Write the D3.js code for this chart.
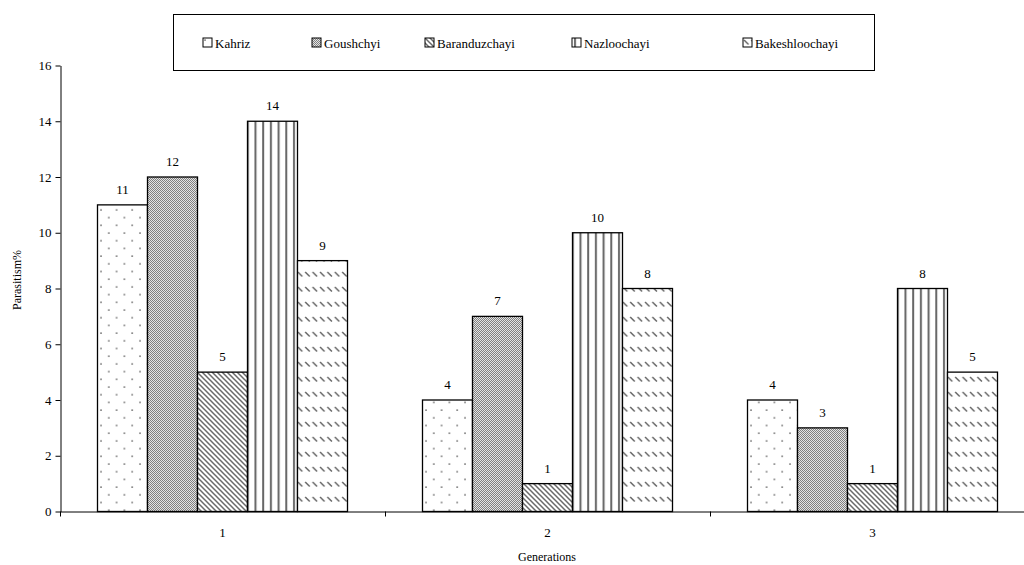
<!DOCTYPE html>
<html>
<head>
<meta charset="utf-8">
<script src="https://cdn.jsdelivr.net/npm/d3@7"></script>
<style>
  body { margin: 0; background: #fff; }
  svg text { font-family: "Liberation Serif", "Times New Roman", serif; fill: #000; }
</style>
</head>
<body>
<svg width="1024" height="565"></svg>
<script>
const generations = ['1', '2', '3'];
const sites = ['Kahriz', 'Goushchyi', 'Baranduzchayi', 'Nazloochayi', 'Bakeshloochayi'];
const kahriz = [11, 4, 4];
const goushchyi = [12, 7, 3];
const baranduzchayi = [5, 1, 1];
const nazloochayi = [14, 10, 8];
const bakeshloochayi = [9, 8, 5];
const yTicks = [0, 2, 4, 6, 8, 10, 12, 14, 16];

const seriesValues = [kahriz, goushchyi, baranduzchayi, nazloochayi, bakeshloochayi];
const rows = [];
generations.forEach((g, gi) => {
  sites.forEach((s, si) => rows.push({gen: g, site: s, value: seriesValues[si][gi]}));
});

const svg = d3.select('svg');
const defs = svg.append('defs');

// fill patterns, one per site
function pat(id, w, h) {
  return defs.append('pattern').attr('id', id)
    .attr('patternUnits', 'userSpaceOnUse').attr('width', w).attr('height', h);
}
let p = pat('p0', 15.6, 15.4);
p.append('rect').attr('width', 15.6).attr('height', 15.4).attr('fill', '#fff');
p.append('circle').attr('cx', 2).attr('cy', 2).attr('r', 0.9).attr('fill', '#666');
p.append('circle').attr('cx', 9.8).attr('cy', 9.7).attr('r', 0.9).attr('fill', '#666');

p = pat('p1', 2, 2);
p.append('rect').attr('width', 2).attr('height', 2).attr('fill', '#e4e4e4');
p.append('rect').attr('width', 1).attr('height', 1).attr('fill', '#808080');
p.append('rect').attr('x', 1).attr('y', 1).attr('width', 1).attr('height', 1).attr('fill', '#808080');

p = pat('p2', 5, 5);
p.append('rect').attr('width', 5).attr('height', 5).attr('fill', '#fff');
p.append('path').attr('d', 'M-1,-1L6,6M-1,4L1,6M4,-1L6,1').attr('stroke', '#6a6a6a').attr('stroke-width', 1.5);

p = pat('p3', 7.7, 10);
p.append('rect').attr('width', 7.7).attr('height', 10).attr('fill', '#fff');
p.append('rect').attr('x', 2).attr('width', 2).attr('height', 10).attr('fill', '#666');

p = pat('p4', 7.4, 15);
p.append('rect').attr('width', 7.4).attr('height', 15).attr('fill', '#fff');
p.append('path').attr('d', 'M1,2L5.5,6.5').attr('stroke', '#666').attr('stroke-width', 1.5);

const fills = d3.scaleOrdinal().domain(sites).range(['url(#p0)', 'url(#p1)', 'url(#p2)', 'url(#p3)', 'url(#p4)']);

const x0 = d3.scaleBand().domain(generations).range([60, 1035]);
const x1 = d3.scaleBand().domain(sites).range([37.5, 287.5]);
const y = d3.scaleLinear().domain([0, 16]).range([511.5, 65.5]);

// y axis
const yAxis = svg.append('g').attr('transform', 'translate(60.5,0)')
  .call(d3.axisLeft(y).tickValues(yTicks).tickSize(5).tickSizeOuter(0));
yAxis.selectAll('text').attr('font-size', 13).attr('dx', '-1');
yAxis.selectAll('line, path').attr('stroke', '#000');

// x axis: boundary ticks and centred labels
const xLin = d3.scaleLinear().domain([0, 3]).range([60, 1035]);
const xAxis = svg.append('g').attr('transform', 'translate(0,511.5)')
  .call(d3.axisBottom(xLin).ticks(3).tickSize(5).tickFormat('').tickSizeOuter(0));
xAxis.selectAll('line, path').attr('stroke', '#000');
const xLab = svg.append('g').attr('transform', 'translate(0,511.5)')
  .call(d3.axisBottom(x0).tickSize(0).tickPadding(16));
xLab.select('.domain').remove();
xLab.selectAll('text').attr('font-size', 13);

// bars
const groups = svg.append('g').selectAll('g').data(generations).join('g')
  .attr('transform', d => `translate(${x0(d)},0)`);
groups.selectAll('rect').data(g => rows.filter(r => r.gen === g)).join('rect')
  .attr('x', d => x1(d.site)).attr('width', x1.bandwidth())
  .attr('y', d => y(d.value)).attr('height', d => y(0) - y(d.value))
  .attr('fill', d => fills(d.site)).attr('stroke', '#000').attr('stroke-width', 1.3);
groups.selectAll('text').data(g => rows.filter(r => r.gen === g)).join('text')
  .attr('x', d => x1(d.site) + x1.bandwidth() / 2).attr('y', d => y(d.value) - 11)
  .attr('text-anchor', 'middle').attr('font-size', 13).text(d => d.value);

// axis titles
svg.append('text').attr('transform', 'translate(21,280) rotate(-90)')
  .attr('text-anchor', 'middle').attr('font-size', 12).text('Parasitism%');
svg.append('text').attr('x', 547).attr('y', 561)
  .attr('text-anchor', 'middle').attr('font-size', 12).text('Generations');

// legend
svg.append('rect').attr('x', 173.5).attr('y', 14.5).attr('width', 701).attr('height', 56)
  .attr('fill', '#fff').attr('stroke', '#000');
const legendX = [203, 312, 425, 572, 743];
const leg = svg.append('g').selectAll('g').data(sites).join('g')
  .attr('transform', (d, i) => `translate(${legendX[i]},38)`);
leg.append('rect').attr('width', 9).attr('height', 9)
  .attr('fill', d => fills(d)).attr('stroke', '#000').attr('stroke-width', 1);
leg.append('text').attr('x', 12).attr('y', 9.5).attr('font-size', 13).text(d => d);
</script>
</body>
</html>
